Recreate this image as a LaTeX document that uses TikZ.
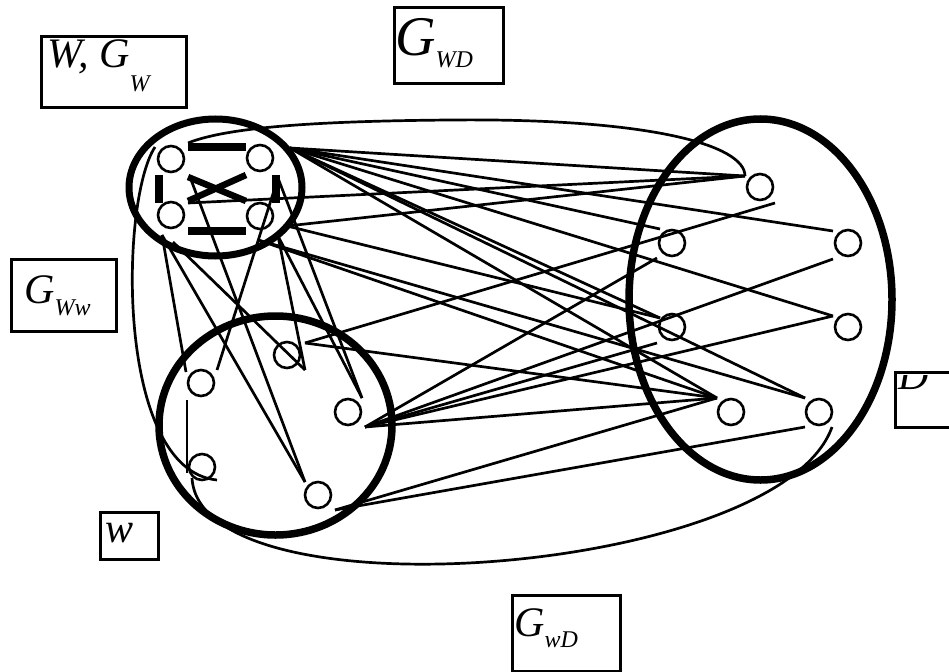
\documentclass[tikz,border=0pt]{standalone}
\usepackage{fontspec}
\setmainfont{Liberation Serif}
\usetikzlibrary{shapes.geometric}
\newcommand\lowsub[2]{\raisebox{-#1}{\fontsize{24}{24}\selectfont #2}}
\begin{document}
\begin{tikzpicture}[x=1pt,y=-1pt,
  vtx/.style={circle,draw,line width=2.6pt,minimum size=26pt,inner sep=0pt},
  link/.style={line width=2.7pt},
  setring/.style={ellipse,draw,line width=7pt,inner sep=0pt},
  dashbar/.style={line width=8pt},
  crossbar/.style={line width=6.5pt},
  labelbox/.style={draw,line width=2.8pt,inner sep=0pt,anchor=north west},
  labeltext/.style={anchor=base west,inner sep=0pt,font=\fontsize{42}{42}\selectfont\itshape},
]
\useasboundingbox (0,0) rectangle (949,671);

% the three vertex sets
\node[setring,minimum width=173pt,minimum height=137pt] (Wset) at (215.5,187.5) {};
\node[setring,line width=7.5pt,minimum width=233pt,minimum height=219pt] (wset) at (275.5,425.5) {};
\node[setring,line width=7.5pt,minimum width=263pt,minimum height=361pt] (Dset) at (760.5,299.5) {};

% vertices
\foreach \n/\x/\y in {W1/171/159, W2/260/158, W3/171/215, W4/260/216,
                      w1/201/383, w2/287/355, w3/348/412, w4/202/467, w5/318/495,
                      D1/760/187, D2/672/243, D3/848/243, D4/672/327, D5/848/327,
                      D6/731/412, D7/819/412}
  \node[vtx] (\n) at (\x,\y) {};

% dashed complete graph inside W
\draw[dashbar] (188,147) -- (246,147);
\draw[dashbar] (188,230.5) -- (246,230.5);
\draw[dashbar] (158.5,175) -- (158.5,203);
\draw[dashbar] (276,175) -- (276,203);
\draw[crossbar] (188,177) -- (246,201);
\draw[crossbar] (188,201) -- (246,175);

% end points of the connectors
\coordinate (pA) at (290,148);
\coordinate (pB) at (188,203);
\coordinate (pC) at (287,226);
\coordinate (pE) at (258,240);
\coordinate (pX) at (190,177);
\coordinate (pR) at (278,178);
\coordinate (pW3b) at (162,235);
\coordinate (pW3c) at (173,242);
\coordinate (pW4c) at (278,236);
\coordinate (pTop) at (188,143);
\coordinate (pLeft) at (155,147);

\coordinate (pw1t) at (186,372);
\coordinate (pw1r) at (217,370);
\coordinate (pw1b) at (187,400);
\coordinate (pw2r) at (305,343);
\coordinate (pw2b) at (305,370);
\coordinate (pw3t) at (362,398);
\coordinate (pw3r) at (365,427);
\coordinate (pw4t) at (187,473);
\coordinate (pw4b) at (192,478);
\coordinate (pw4e) at (217,480);
\coordinate (pw5t) at (305,482);
\coordinate (pw5r) at (335,510);

\coordinate (pD1) at (745,176);
\coordinate (pD1b) at (775,203);
\coordinate (pD2) at (660,229);
\coordinate (pD2b) at (657,258);
\coordinate (pD3) at (833,231);
\coordinate (pD3b) at (833,259);
\coordinate (pD4) at (660,318);
\coordinate (pD4b) at (657,343);
\coordinate (pD5) at (833,316);
\coordinate (pD6) at (717,398);
\coordinate (pD7) at (805,398);
\coordinate (pD7b) at (805,427);
\coordinate (pD7c) at (832,427);
\coordinate (pArc) at (450,120);

% W -- D
\foreach \a/\b in {pA/pD1, pA/pD2, pA/pD3, pA/pD4, pA/pD5, pA/pD6, pA/pD7,
                   pB/pD1, pC/pD1, pC/pD4, pE/pD6, pE/pD7}
  \draw[link] (\a) -- (\b);

% w -- D
\foreach \a/\b in {pw2r/pD1b, pw2r/pD6, pw3r/pD2b, pw3r/pD3b, pw3r/pD4b,
                   pw3r/pD5, pw3r/pD6, pw5r/pD6, pw5r/pD7b}
  \draw[link] (\a) -- (\b);

% W -- w and inside w
\foreach \a/\b in {pW3b/pw1t, pR/pw1r, pW3b/pw5t, pX/pw5t, pW3c/pw2b,
                   pW4c/pw2b, pR/pw3t, pW4c/pw3t, pw1b/pw4t}
  \draw[link] (\a) -- (\b);

% long curved connectors
\draw[link] (pTop) .. controls (230,126) and (330,121) .. (pArc)
                   .. controls (650,118) and (745,145) .. (pD1);
\draw[link] (pLeft) .. controls (120,200) and (115,470) .. (pw4e);
\draw[link] (pw4b) .. controls (200,620) and (780,575) .. (pD7c);

% labels
\node[labelbox,minimum width=145pt,minimum height=71pt] (boxW) at (40,35) {};
\node[labeltext] (txtW) at (47,68) {W,\hspace{0.25em}G\lowsub{24pt}{W}};
\node[labelbox,minimum width=109pt,minimum height=76pt] (boxWD) at (393,6) {};
\node[labeltext,font=\fontsize{56}{56}\selectfont\itshape] (txtWD) at (395,56) {G\lowsub{12pt}{WD}};
\node[labelbox,minimum width=105pt,minimum height=72pt] (boxWw) at (10,258) {};
\node[labeltext] (txtWw) at (24,303) {G\lowsub{12pt}{Ww}};
\node[labelbox,minimum width=58pt,minimum height=47pt] (boxw) at (99,511) {};
\node[labeltext] (txtw) at (105,542) {w};
\node[labelbox,minimum width=108pt,minimum height=76pt] (boxwD) at (511,594) {};
\node[labeltext] (txtwD) at (514,636) {G\lowsub{11pt}{wD}};
\node[labelbox,minimum width=70pt,minimum height=55pt] (boxD) at (894,371) {};
\begin{scope}
  \clip (896,375) rectangle (949,424);
  \node[labeltext] (txtD) at (898,389) {D};
\end{scope}
\end{tikzpicture}
\end{document}
